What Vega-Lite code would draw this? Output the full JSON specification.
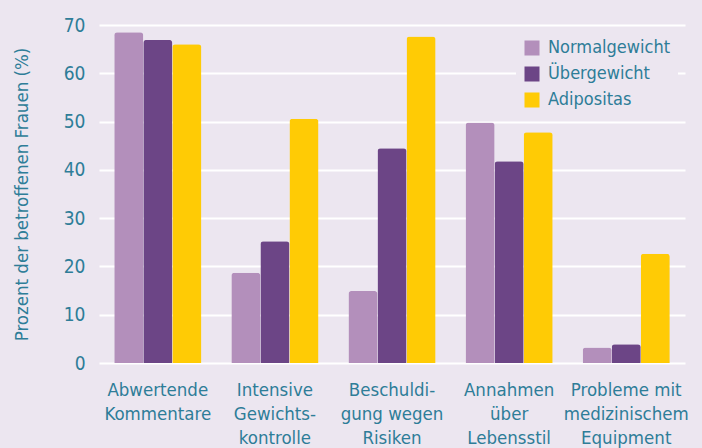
{
  "$schema": "https://vega.github.io/schema/vega-lite/v6.json",
  "width": 586,
  "height": 338,
  "autosize": {"type": "none"},
  "padding": {"left": 99, "top": 25, "right": 17, "bottom": 85},
  "background": "#ECE6F0",
  "config": {
    "view": {"stroke": null},
    "font": "Liberation Sans Narrow, DejaVu Sans Condensed, sans-serif",
    "axis": {"labelColor": "#2E7D98", "titleColor": "#2E7D98", "labelFont": "Liberation Sans Narrow, DejaVu Sans Condensed, sans-serif", "titleFont": "Liberation Sans Narrow, DejaVu Sans Condensed, sans-serif"},
    "legend": {"labelFont": "Liberation Sans Narrow, DejaVu Sans Condensed, sans-serif"}
  },
  "data": {
    "values": [
      {"Kategorie": "Abwertende Kommentare", "Gruppe": "Normalgewicht", "Prozent": 68.5},
      {"Kategorie": "Abwertende Kommentare", "Gruppe": "Übergewicht", "Prozent": 66.9},
      {"Kategorie": "Abwertende Kommentare", "Gruppe": "Adipositas", "Prozent": 66.0},
      {"Kategorie": "Intensive Gewichtskontrolle", "Gruppe": "Normalgewicht", "Prozent": 18.7},
      {"Kategorie": "Intensive Gewichtskontrolle", "Gruppe": "Übergewicht", "Prozent": 25.2},
      {"Kategorie": "Intensive Gewichtskontrolle", "Gruppe": "Adipositas", "Prozent": 50.6},
      {"Kategorie": "Beschuldigung wegen Risiken", "Gruppe": "Normalgewicht", "Prozent": 14.9},
      {"Kategorie": "Beschuldigung wegen Risiken", "Gruppe": "Übergewicht", "Prozent": 44.5},
      {"Kategorie": "Beschuldigung wegen Risiken", "Gruppe": "Adipositas", "Prozent": 67.6},
      {"Kategorie": "Annahmen über Lebensstil", "Gruppe": "Normalgewicht", "Prozent": 49.8},
      {"Kategorie": "Annahmen über Lebensstil", "Gruppe": "Übergewicht", "Prozent": 41.8},
      {"Kategorie": "Annahmen über Lebensstil", "Gruppe": "Adipositas", "Prozent": 47.8},
      {"Kategorie": "Probleme mit medizinischem Equipment", "Gruppe": "Normalgewicht", "Prozent": 3.2},
      {"Kategorie": "Probleme mit medizinischem Equipment", "Gruppe": "Übergewicht", "Prozent": 3.9},
      {"Kategorie": "Probleme mit medizinischem Equipment", "Gruppe": "Adipositas", "Prozent": 22.6}
    ]
  },
  "mark": {"type": "bar", "cornerRadiusTopLeft": 3, "cornerRadiusTopRight": 3},
  "encoding": {
    "x": {
      "field": "Kategorie", "type": "nominal", "sort": null,
      "scale": {"paddingInner": 0.256, "paddingOuter": 0.13},
      "axis": {
        "title": null, "domain": false, "ticks": false, "labelAngle": 0,
        "labelFontSize": 18.5, "labelLineHeight": 24, "labelPadding": 17,
        "labelBaseline": "top",
        "labelExpr": "datum.label == 'Abwertende Kommentare' ? ['Abwertende','Kommentare'] : datum.label == 'Intensive Gewichtskontrolle' ? ['Intensive','Gewichts-','kontrolle'] : datum.label == 'Beschuldigung wegen Risiken' ? ['Beschuldi-','gung wegen','Risiken'] : datum.label == 'Annahmen über Lebensstil' ? ['Annahmen','über','Lebensstil'] : ['Probleme mit','medizinischem','Equipment']"
      }
    },
    "xOffset": {"field": "Gruppe", "type": "nominal", "sort": ["Normalgewicht", "Übergewicht", "Adipositas"], "scale": {"paddingInner": 0, "paddingOuter": 0}},
    "y": {
      "field": "Prozent", "type": "quantitative",
      "scale": {"domain": [0, 70]},
      "axis": {
        "title": "Prozent der betroffenen Frauen (%)", "titleFontSize": 18.5, "titleFontWeight": "normal", "titlePadding": 32,
        "domain": false, "ticks": false, "values": [0, 10, 20, 30, 40, 50, 60, 70],
        "labelFontSize": 19, "labelPadding": 14,
        "gridColor": "#FFFFFF", "gridWidth": 2, "gridOpacity": 1
      }
    },
    "color": {
      "field": "Gruppe", "type": "nominal",
      "sort": ["Normalgewicht", "Übergewicht", "Adipositas"],
      "scale": {"domain": ["Normalgewicht", "Übergewicht", "Adipositas"], "range": ["#B38FBB", "#6C4586", "#FFCB05"]},
      "legend": {
        "title": null, "orient": "none", "legendX": 417, "legendY": 7,
        "padding": 7, "fillColor": "#ECE6F0",
        "symbolType": "square", "symbolSize": 225, "symbolStrokeWidth": 0, "symbolOpacity": 1,
        "labelFontSize": 18, "labelColor": "#2E7D98", "labelOffset": 7,
        "rowPadding": 8
      }
    }
  }
}
